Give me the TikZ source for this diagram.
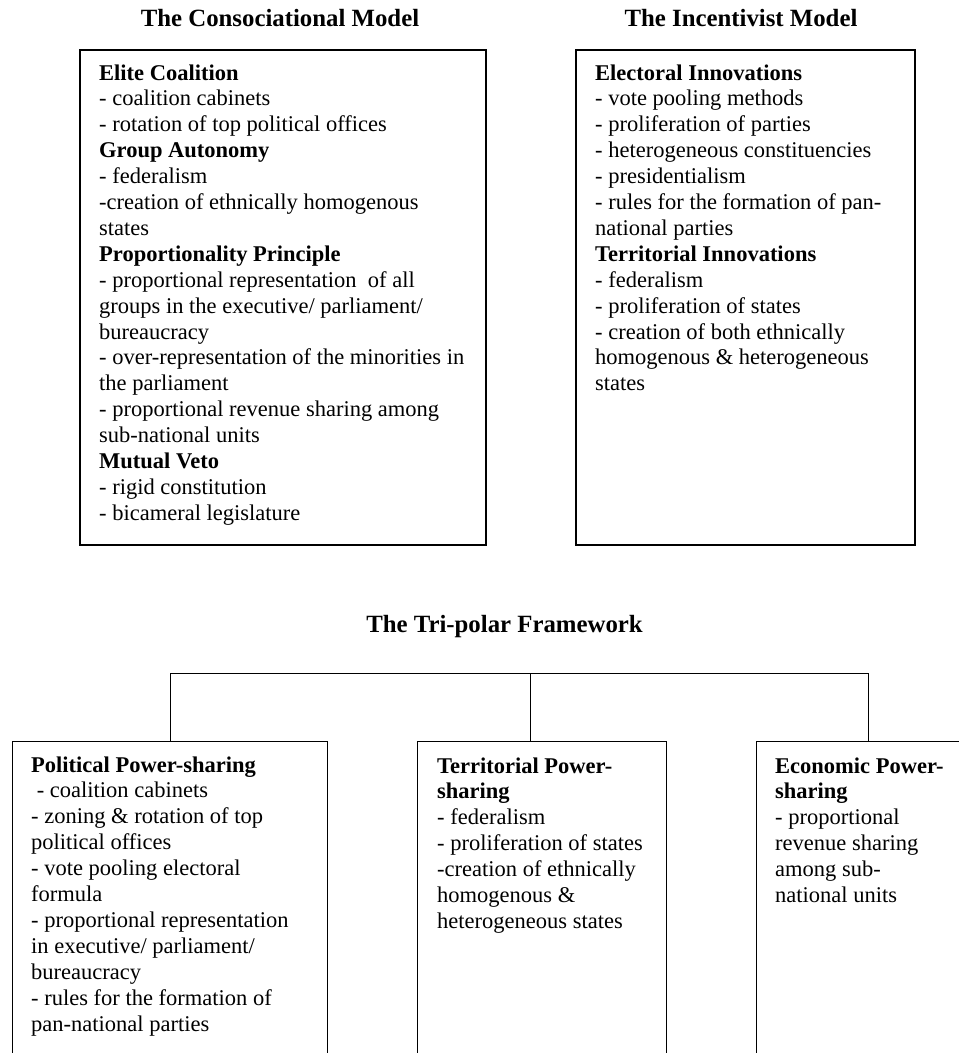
\documentclass[tikz,border=0pt]{standalone}
\usepackage{fontspec}
\setmainfont{Liberation Serif}
\newcommand{\lines}[1]{\parbox[t]{600pt}{\raggedright\hyphenpenalty=10000 #1}}
\begin{document}
\begin{tikzpicture}[x=1pt,y=-1pt,
  topbox/.style={draw, line width=1.6pt, rectangle, inner sep=0, anchor=north west},
  botbox/.style={draw, line width=1.2pt, rectangle, inner sep=0, anchor=north west},
  ttl/.style={inner sep=0, anchor=base, font=\fontsize{24.8}{28}\selectfont\bfseries},
  body/.style={inner sep=0, anchor=base west, font=\fontsize{22.5}{25.9}\selectfont},
  link/.style={draw, line width=1pt}]
\useasboundingbox (0,0) rectangle (959,1053);
\clip (0,0) rectangle (959,1053);

% titles
\node[ttl] (t1) at (280,26) {The Consociational Model};
\node[ttl] (t2) at (741,26) {The Incentivist Model};
\node[ttl] (t3) at (504.5,632) {The Tri-polar Framework};

% top boxes
\node[topbox, minimum width=406pt, minimum height=495pt] (cons) at (79,49) {};
\node[topbox, minimum width=339pt, minimum height=495pt] (inc) at (575,49) {};

\node[body] (constext) at (99,80) {\lines{%
\textbf{Elite Coalition}\\
- coalition cabinets\\
- rotation of top political offices\\
\textbf{Group Autonomy}\\
- federalism\\
-creation of ethnically homogenous\\
states\\
\textbf{Proportionality Principle}\\
- proportional representation\ \ of all\\
groups in the executive/ parliament/\\
bureaucracy\\
- over-representation of the minorities in\\
the parliament\\
- proportional revenue sharing among\\
sub-national units\\
\textbf{Mutual Veto}\\
- rigid constitution\\
- bicameral legislature}};

\node[body] (inctext) at (595,80) {\lines{%
\textbf{Electoral Innovations}\\
- vote pooling methods\\
- proliferation of parties\\
- heterogeneous constituencies\\
- presidentialism\\
- rules for the formation of pan-\\
national parties\\
\textbf{Territorial Innovations}\\
- federalism\\
- proliferation of states\\
- creation of both ethnically\\
homogenous \& heterogeneous\\
states}};

% bottom boxes (cut off at the lower edge of the picture)
\node[botbox, minimum width=315pt, minimum height=340pt] (pol) at (12,741) {};
\node[botbox, minimum width=249pt, minimum height=340pt] (ter) at (417,741) {};
\node[botbox, minimum width=224pt, minimum height=340pt] (eco) at (756,741) {};

\node[body] (poltext) at (31,772) {\lines{%
\textbf{Political Power-sharing}\\
\hspace*{5.6pt}- coalition cabinets\\
- zoning \& rotation of top\\
political offices\\
- vote pooling electoral\\
formula\\
- proportional representation\\
in executive/ parliament/\\
bureaucracy\\
- rules for the formation of\\
pan-national parties}};

\node[body] (tertext) at (437,773) {\lines{%
\textbf{Territorial Power-}\\
\textbf{sharing}\\
- federalism\\
- proliferation of states\\
-creation of ethnically\\
homogenous \&\\
heterogeneous states}};

\node[body] (ecotext) at (775,773) {\lines{%
\textbf{Economic Power-}\\
\textbf{sharing}\\
- proportional\\
revenue sharing\\
among sub-\\
national units}};

% connectors
\coordinate (hub) at (530,673);
\draw[link] (pol.north) |- (hub) -| (eco.north);
\draw[link] (hub) -- (hub |- ter.north);
\end{tikzpicture}
\end{document}
